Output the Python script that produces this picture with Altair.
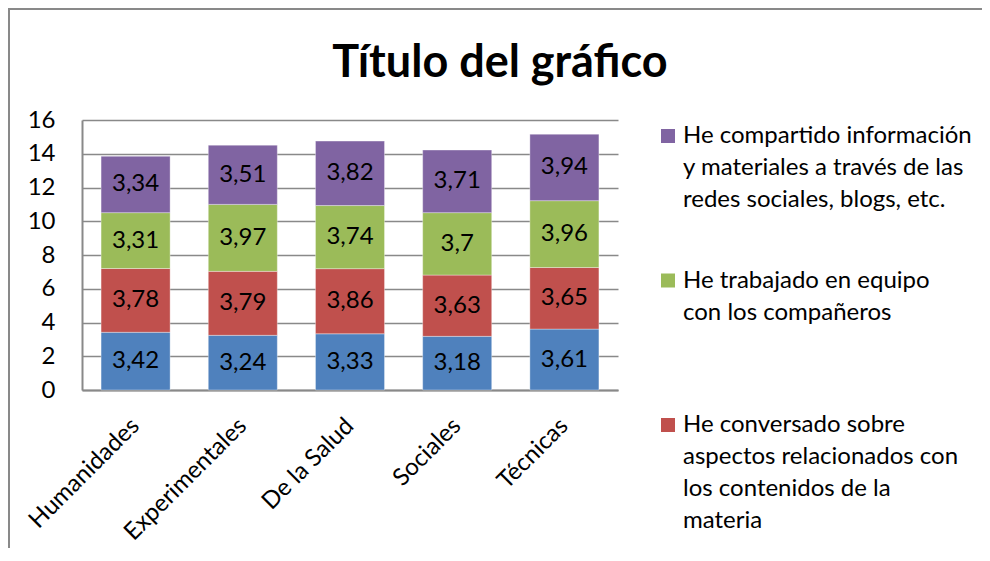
import altair as alt
import pandas as pd

# ---- data ----
categories = ["Humanidades", "Experimentales", "De la Salud", "Sociales", "Técnicas"]

series = [
    "Serie 1",
    "He conversado sobre aspectos relacionados con los contenidos de la materia",
    "He trabajado en equipo con los compañeros",
    "He compartido información y materiales a través de las redes sociales, blogs, etc.",
]
# legend entries visible in the reference (the first series' entry is cut off there)
legend_series = series[1:]
legend_text = [
    "He conversado sobre\naspectos relacionados con\nlos contenidos de la\nmateria",
    "He trabajado en equipo\ncon los compañeros",
    "He compartido información\ny materiales a través de las\nredes sociales, blogs, etc.",
]
colors = ["#4F81BD", "#C0504D", "#9BBB59", "#8064A2"]

serie1 = [3.42, 3.24, 3.33, 3.18, 3.61]
serie2 = [3.78, 3.79, 3.86, 3.63, 3.65]
serie3 = [3.31, 3.97, 3.74, 3.70, 3.96]
serie4 = [3.34, 3.51, 3.82, 3.71, 3.94]
y_ticks = [0, 2, 4, 6, 8, 10, 12, 14, 16]

values = [serie1, serie2, serie3, serie4]
rows = []
for k, (s, vals) in enumerate(zip(series, values)):
    for c, v in zip(categories, vals):
        rows.append({"cat": c, "series": s, "value": v, "k": k})
df = pd.DataFrame(rows)

legend_order = list(reversed(series))
leg_df = pd.DataFrame({"series": legend_series, "text": legend_text})

FONT = "Lato"
GRID = "#898989"

color_scale = alt.Scale(domain=series, range=colors)

stacked = alt.Chart(df).transform_stack(
    stack="value", groupby=["cat"], as_=["y0", "y1"],
    sort=[alt.SortField("k", order="ascending")],
)

x_enc = alt.X(
    "cat:N", sort=categories, title=None,
    scale=alt.Scale(paddingInner=0.356, paddingOuter=0.178),
    axis=alt.Axis(labelAngle=-45, labelAlign="right", labelBaseline="middle",
                  labelFont=FONT, labelFontSize=24, labelColor="black",
                  ticks=False, tickSize=0, labelPadding=32, domainColor=GRID,
                  domainWidth=2, grid=False, labelOverlap=False),
)
y_scale = alt.Scale(domain=[0, 16])
y_axis = alt.Axis(values=y_ticks, ticks=False, tickSize=0, labelPadding=27,
                  labelFont=FONT, labelFontSize=24, labelColor="black",
                  labelOverlap=False, domainColor=GRID, domainWidth=2,
                  grid=True, gridColor=GRID, gridWidth=1.3)

bars = stacked.mark_bar(stroke="white", strokeWidth=0.7, strokeOpacity=0.5).encode(
    x=x_enc,
    y=alt.Y("y0:Q", scale=y_scale, title=None, axis=y_axis),
    y2="y1:Q",
    color=alt.Color("series:N", scale=color_scale, legend=None),
)

labels = stacked.transform_calculate(
    mid="(datum.y0 + datum.y1) / 2",
    lbl="replace(toString(datum.value), '.', ',')",
).mark_text(font=FONT, fontSize=24, color="black").encode(
    x=x_enc,
    y=alt.Y("mid:Q", scale=y_scale, title=None, axis=y_axis),
    text="lbl:N",
)

frame_src = alt.Chart(alt.Data(values=[{"f": 1}]))
top_line = frame_src.mark_rule(color=GRID, strokeWidth=2).encode(
    x=alt.value(-74), x2=alt.value(900), y=alt.value(-111))
left_line = frame_src.mark_rule(color=GRID, strokeWidth=2).encode(
    x=alt.value(-73), y=alt.value(-112), y2=alt.value(440))

main = alt.layer(bars, labels, top_line, left_line)

leg_y = alt.Y("series:N", sort=legend_order, axis=None,
              scale=alt.Scale(domain=legend_order, range=[16, 449.5], padding=0))
leg_sq = alt.Chart(leg_df).mark_square(size=196, opacity=1).encode(
    x=alt.value(586), y=leg_y,
    color=alt.Color("series:N", scale=color_scale, legend=None),
)
leg_txt = alt.Chart(leg_df).mark_text(
    font=FONT, fontSize=24, color="black", align="left", baseline="alphabetic",
    dy=7, lineBreak="\n", lineHeight=32,
).encode(x=alt.value(601), y=leg_y, text="text:N")
legend = alt.layer(leg_sq, leg_txt)

chart = alt.layer(main, legend).resolve_scale(y="independent").properties(
    width=536, height=270,
    title=alt.Title("Título del gráfico", font=FONT, fontSize=45, fontWeight="bold",
                    color="black", anchor="middle", baseline="alphabetic",
                    offset=-115, dx=150),
    autosize=alt.AutoSizeParams(type="none"),
    padding={"left": 74, "top": 112, "right": 364, "bottom": 158},
    background="white",
).configure_view(strokeWidth=0)

chart.save("out.html", embed_options={"renderer": "svg", "actions": False})
